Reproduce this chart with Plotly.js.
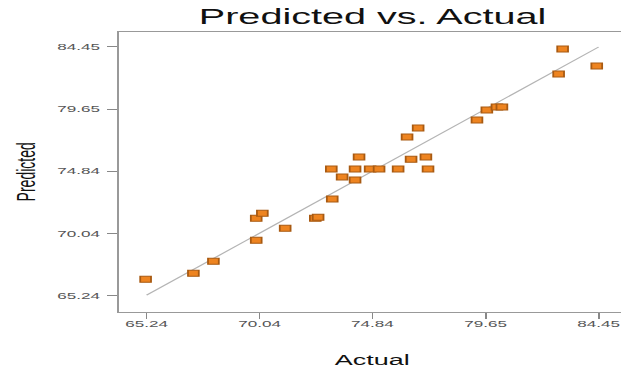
<!DOCTYPE html>
<html>
<head>
<meta charset="utf-8">
<script src="https://cdn.plot.ly/plotly-3.0.1.min.js"></script>
<style>
  html, body { margin: 0; padding: 0; background: #fff; overflow: hidden; width: 621px; height: 369px; }
  #chart { width: 352px; height: 369px; transform: scaleX(1.8); transform-origin: 0 0; }
</style>
</head>
<body>
<div id="chart"></div>
<script>
// Observed (actual) and model-predicted responses for each run
const actual = [65.20, 67.23, 68.08, 69.90, 69.90, 70.16, 71.13, 72.41, 72.53, 73.13,
                73.09, 73.55, 74.10, 74.27, 74.10, 74.74, 75.12, 75.93, 76.31, 76.48,
                76.78, 77.11, 77.20, 79.28, 79.70, 80.13, 80.34, 82.75, 82.92, 84.37];
const predicted = [66.48, 66.94, 67.87, 69.50, 71.20, 71.59, 70.43, 71.20, 71.28, 72.68,
                   75.00, 74.38, 74.15, 75.93, 75.00, 75.00, 75.00, 75.00, 77.48, 75.77,
                   78.18, 75.93, 75.00, 78.80, 79.57, 79.80, 79.80, 82.36, 84.29, 82.98];

// Axis ticks shared by both axes
const tickValues = [65.24, 70.04, 74.84, 79.65, 84.45];
const tickLabels = ["65.24", "70.04", "74.84", "79.65", "84.45"];

// Ends of the reference line where predicted equals actual
const parityEnds = [65.24, 84.45];

const tickFont = { family: "Liberation Sans, Arial, sans-serif", size: 9.5, color: "#555" };

const traces = [
  {
    type: "scatter", mode: "lines",
    x: parityEnds, y: parityEnds,
    line: { color: "#b4b4b4", width: 1 },
    hoverinfo: "skip", showlegend: false
  },
  {
    type: "scatter", mode: "markers",
    x: actual, y: predicted,
    marker: { symbol: "square", size: 6, color: "#ee8420", line: { color: "#a85a12", width: 1 } },
    showlegend: false
  }
];

const layout = {
  width: 352, height: 369,
  margin: { l: 65.6, r: 3.8, t: 32, b: 57, pad: 0 },
  paper_bgcolor: "#fff", plot_bgcolor: "#fff",
  title: {
    text: "Predicted vs. Actual",
    font: { family: "Liberation Sans, Arial, sans-serif", size: 22, color: "#111" },
    x: 0.5, xref: "paper", xanchor: "center",
    y: 20, yref: "container", yanchor: "middle"
  },
  xaxis: {
    range: [64.06, 85.63],
    tickvals: tickValues, ticktext: tickLabels,
    ticks: "outside", ticklen: 6, tickwidth: 1, tickcolor: "#888",
    tickfont: tickFont, ticklabelstandoff: -3,
    showline: true, linecolor: "#999", linewidth: 1, mirror: true,
    showgrid: false, zeroline: false
  },
  yaxis: {
    range: [63.94, 85.61],
    tickvals: tickValues, ticktext: tickLabels,
    ticks: "outside", ticklen: 5.5, tickwidth: 1, tickcolor: "#888",
    tickfont: tickFont, ticklabelstandoff: 2,
    showline: true, linecolor: "#999", linewidth: 1, mirror: true,
    showgrid: false, zeroline: false
  },
  annotations: [
    {
      text: "Actual", xref: "paper", yref: "paper",
      x: 0.5, y: -0.168, xanchor: "center", yanchor: "middle",
      showarrow: false,
      font: { family: "Liberation Sans, Arial, sans-serif", size: 15, color: "#111" }
    },
    {
      text: "Predicted", xref: "paper", yref: "paper",
      x: -0.183, y: 0.5, xanchor: "center", yanchor: "middle", textangle: -90,
      showarrow: false,
      font: { family: "Liberation Sans, Arial, sans-serif", size: 14, color: "#111" }
    }
  ]
};

Plotly.newPlot("chart", traces, layout, { staticPlot: true, displayModeBar: false });
</script>
</body>
</html>
